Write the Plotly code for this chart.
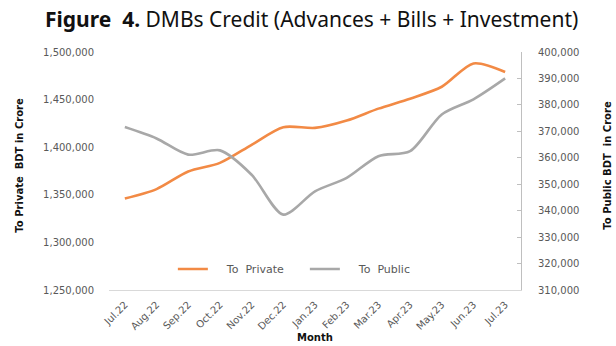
import plotly.graph_objects as go

# Monthly DMB credit, BDT crore
months = ["Jul.22", "Aug.22", "Sep.22", "Oct.22", "Nov.22", "Dec.22", "Jan.23",
          "Feb.23", "Mar.23", "Apr.23", "May.23", "Jun.23", "Jul.23"]
to_private = [1346000, 1356000, 1374500, 1383500, 1402500, 1421000, 1420300,
              1428000, 1440500, 1451000, 1463500, 1488000, 1479000]
to_public = [371600, 367300, 361200, 362800, 353600, 338500, 347300,
             352400, 360600, 362500, 376400, 382100, 390000]

tick_font = dict(family="DejaVu Sans", size=10, color="#595959")
title_font = dict(family="DejaVu Sans", size=10, color="#111111")

fig = go.Figure()
fig.add_trace(go.Scatter(
    x=months, y=to_private, name="    To  Private", mode="lines",
    line=dict(color="#F28A45", width=2.6, shape="spline", smoothing=0.8),
    yaxis="y"))
fig.add_trace(go.Scatter(
    x=months, y=to_public, name="    To  Public", mode="lines",
    line=dict(color="#A8A8A8", width=2.6, shape="spline", smoothing=0.8),
    yaxis="y2"))

fig.update_layout(
    width=616, height=346,
    margin=dict(l=109, r=95, t=52, b=56),
    paper_bgcolor="white", plot_bgcolor="white",
    showlegend=True,
    legend=dict(orientation="h", x=0.155, xanchor="left", y=0.088, yanchor="middle",
                font=dict(family="DejaVu Sans", size=11, color="#595959"),
                bgcolor="rgba(0,0,0,0)", itemwidth=30,
                entrywidth=87, entrywidthmode="pixels"),
    xaxis=dict(type="category", range=[-0.5, 12.5], showgrid=False,
               showline=True, linecolor="#D9D9D9", linewidth=1,
               ticks="outside", ticklen=4, tickcolor="rgba(0,0,0,0)",
               tickangle=-45, tickfont=tick_font, zeroline=False),
    yaxis=dict(range=[1250000, 1500000], dtick=50000, tickformat=",d",
               showgrid=False, zeroline=False, showline=False,
               tickfont=tick_font, ticklabelstandoff=14),
    yaxis2=dict(range=[310000, 400000], dtick=10000, tickformat=",d",
                overlaying="y", side="right", showgrid=False, zeroline=False,
                showline=True, linecolor="#BFBFBF", linewidth=1,
                ticks="inside", ticklen=4, tickcolor="#BFBFBF",
                tickfont=tick_font, ticklabelstandoff=14),
)

fig.add_annotation(
    text="<b>Figure  4.</b> DMBs Credit (Advances + Bills + Investment)",
    xref="paper", yref="paper", x=(311 - 109) / 412, y=(290 - 20) / 237.3,
    xanchor="center", yanchor="middle", showarrow=False,
    font=dict(family="Noto Sans", size=21, color="#111111"))
fig.add_annotation(
    text="<b>To Private  BDT in Crore</b>", textangle=-90,
    xref="paper", yref="paper", x=(20 - 109) / 412, y=(290 - 166) / 237.3,
    xanchor="center", yanchor="middle", showarrow=False, font=title_font)
fig.add_annotation(
    text="<b>To Public BDT  in Crore</b>", textangle=-90,
    xref="paper", yref="paper", x=(608 - 109) / 412, y=(290 - 166) / 237.3,
    xanchor="center", yanchor="middle", showarrow=False, font=title_font)
fig.add_annotation(
    text="<b>Month</b>",
    xref="paper", yref="paper", x=(315 - 109) / 412, y=(290 - 345) / 237.3,
    xanchor="center", yanchor="bottom", showarrow=False, font=title_font)

fig.write_html("out.html")
